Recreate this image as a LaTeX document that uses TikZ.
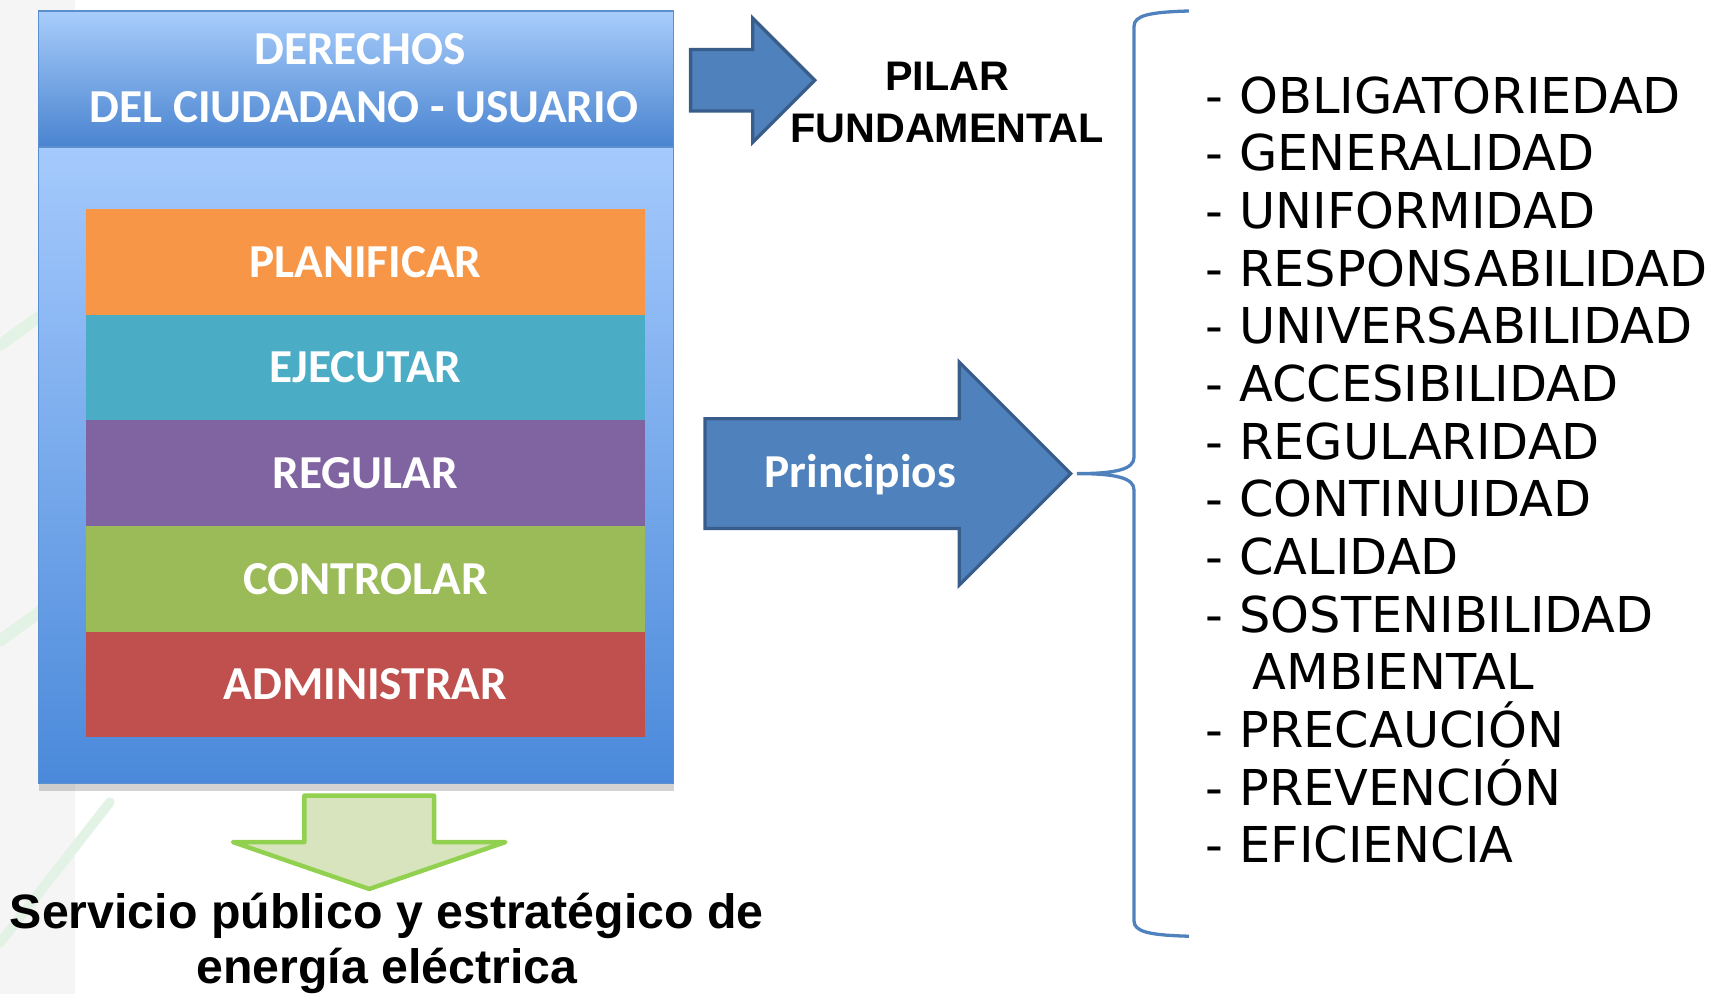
\documentclass[tikz,border=0pt]{standalone}
\usepackage{fontspec}
\setmainfont{DejaVu Sans}
\newfontfamily\calibri{Carlito}
\newfontfamily\arial{Liberation Sans}
\usetikzlibrary{matrix, positioning, shapes.arrows, shadows}

\definecolor{headtop}{HTML}{A8CDFB}
\definecolor{headbot}{HTML}{4A84D0}
\definecolor{bodytop}{HTML}{A5CAFD}
\definecolor{bodymid}{HTML}{8DB6F5}
\definecolor{bodybot}{HTML}{4A89DA}
\definecolor{edgeblue}{HTML}{5B8FD0}
\definecolor{barorange}{HTML}{F79646}
\definecolor{barteal}{HTML}{4BACC6}
\definecolor{barpurple}{HTML}{8064A2}
\definecolor{bargreen}{HTML}{9BBB59}
\definecolor{barred}{HTML}{C0504D}
\definecolor{arrowfill}{HTML}{4F81BD}
\definecolor{arrowline}{HTML}{385D8A}
\definecolor{downfill}{HTML}{D7E4BD}
\definecolor{downline}{HTML}{92D050}
\definecolor{streak}{HTML}{E2F2E4}

\begin{document}
\begin{tikzpicture}
    [x=0.02cm, y=-0.02cm,
     every node/.style={inner sep=0pt},
     boxfont/.style={font=\calibri\bfseries\fontsize{24.5}{30}\selectfont, text=white},
     bartext/.style={boxfont, minimum width=10.18cm, minimum height=1.924cm},
     blackbold/.style={font=\arial\bfseries\fontsize{21.4}{26.6}\selectfont, align=center},
     listtext/.style={font=\fontsize{25.6}{30}\selectfont, anchor=base west,
                      text height=0.75cm, text depth=0.3cm},
     bluearrow/.style={single arrow, anchor=tail, fill=arrowfill, draw=arrowline, line width=1.7pt}]

    \useasboundingbox (0,0) rectangle (1568,904.5);

    % slide background
    \fill[black!4] (0,0) rectangle (68,904.5);
    \draw[streak, line width=6pt, line cap=round] (0,314) -- (80,256);
    \draw[streak, line width=6pt, line cap=round] (0,583) -- (80,525);
    \draw[streak, line width=5pt, line cap=round] (0,858) -- (100,730);

    \begin{scope}
      \node (hdr) [boxfont, align=center, minimum width=11.56cm, minimum height=2.46cm,
                   top color=headtop, bottom color=headbot, draw=edgeblue, line width=0.6pt]
        at (324,71.5) {\hspace*{4pt}DERECHOS\\ \hspace*{8pt}DEL CIUDADANO - USUARIO};
      \node (body) [below=0pt of hdr, minimum width=11.56cm, minimum height=11.58cm,
                    top color=bodytop, middle color=bodymid, bottom color=bodybot,
                    draw=edgeblue, line width=0.6pt,
                    drop shadow={shadow xshift=0pt, shadow yshift=-4pt, opacity=0.35}] {};

      \matrix (bars) [matrix of nodes, row sep=0pt, nodes={bartext}] at (332.5,430.5)
      {
        |[fill=barorange]| PLANIFICAR \\
        |[fill=barteal]| EJECUTAR \\
        |[fill=barpurple]| REGULAR \\
        |[fill=bargreen]| CONTROLAR \\
        |[fill=barred]| ADMINISTRAR \\
      };
    \end{scope}

    \node (pilararrow) [bluearrow, minimum height=2.26cm, minimum width=2.2cm,
                        single arrow head extend=0.57cm, text height=0.53cm, text depth=0.53cm]
      at (627,73) {};
    \node (pilar) [blackbold, anchor=north] at (862,56.5) {PILAR\\ FUNDAMENTAL};

    \node (princarrow) [bluearrow, minimum height=6.66cm, minimum width=4cm,
                        single arrow head extend=1.03cm, text height=0.97cm, text depth=0.97cm]
      at (640,431) {};
    \node (princ) [boxfont] at (783,432) {Principios};

    \node (downarrow) [single arrow, rotate=-90, anchor=tail, fill=downfill, draw=downline,
                       line width=2.3pt, line join=round, minimum height=1.7cm, minimum width=4.88cm,
                       single arrow head extend=1.3cm, single arrow tip angle=142,
                       text height=1.14cm, text depth=1.14cm]
      at (336,722) {};
    \node (servicio) [blackbold, font=\arial\bfseries\fontsize{25}{28.5}\selectfont, anchor=north]
      at (352,812) {Servicio público y estratégico de\\ energía eléctrica};

    % brace
    \coordinate (bracetip) at (980,431);
    \draw[arrowfill, line width=1.7pt]
      (1082,10) .. controls (1046,11) and (1032,14) .. (1032,24) -- (1032,416)
      .. controls (1032,427) and (1016,431) .. (bracetip)
      .. controls (1016,431) and (1032,435) .. (1032,446) -- (1032,838)
      .. controls (1032,848) and (1046,851) .. (1082,852);

    \matrix (principles) [matrix of nodes, anchor=north west, nodes={listtext}] at (1097,65)
    {
      - OBLIGATORIEDAD \\
      - GENERALIDAD \\
      - UNIFORMIDAD \\
      - RESPONSABILIDAD \\
      - UNIVERSABILIDAD \\
      - ACCESIBILIDAD \\
      - REGULARIDAD \\
      - CONTINUIDAD \\
      - CALIDAD \\
      - SOSTENIBILIDAD \\
      \hspace*{24.4pt}AMBIENTAL \\
      - PRECAUCIÓN \\
      - PREVENCIÓN \\
      - EFICIENCIA \\
    };

  \end{tikzpicture}
\end{document}
